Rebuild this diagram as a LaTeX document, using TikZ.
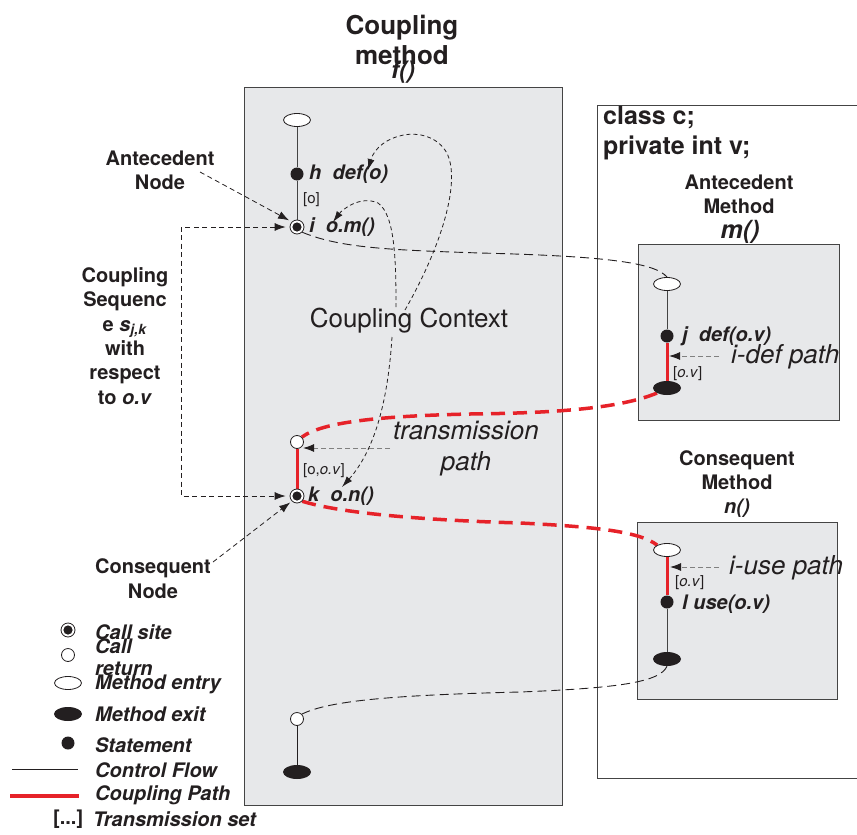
\documentclass[tikz,border=0pt]{standalone}
\usepackage{fontspec}
\setmainfont{TeX Gyre Heros}
\usetikzlibrary{shapes.geometric,arrows.meta,backgrounds}
\definecolor{txt}{HTML}{231F20}
\definecolor{boxgray}{HTML}{E7E8EA}
\definecolor{cred}{HTML}{E62229}
\definecolor{edge}{HTML}{444444}
\newcommand{\fsz}[2]{\fontsize{#1}{#2}\selectfont}
\tikzset{
  boldlbl/.style={font=\fsz{20}{24.5}\bfseries, align=center, text=txt, inner sep=0pt},
  bigtitle/.style={font=\fsz{26}{30}\bfseries, align=center, text=txt, inner sep=0pt},
  stmtlbl/.style={font=\fsz{20}{22}\bfseries\itshape, anchor=west, text=txt, inner sep=0pt},
  biglbl/.style={font=\fsz{26}{31}\itshape, align=center, text=txt, inner sep=0pt},
  tset/.style={font=\fsz{15}{17}, anchor=west, text=txt, inner sep=0pt},
  entrynode/.style={ellipse, draw=txt, line width=0.8pt, fill=white, minimum width=27pt, minimum height=13pt, inner sep=0pt},
  exitnode/.style={ellipse, fill=txt, minimum width=28pt, minimum height=14pt, inner sep=0pt},
  stmtnode/.style={circle, fill=txt, minimum size=13pt, inner sep=0pt},
  retnode/.style={circle, draw=txt, line width=0.8pt, fill=white, minimum size=13pt, inner sep=0pt},
  callnode/.style={retnode, minimum size=14pt, path picture={\fill[txt] (path picture bounding box.center) circle (4.6pt);}},
  cflow/.style={draw=edge, line width=1pt},
  cpath/.style={draw=cred, line width=3pt},
  redcurve/.style={draw=cred, line width=3.5pt, dash pattern=on 14pt off 8pt},
  blkcurve/.style={draw=txt, line width=0.9pt, dash pattern=on 9pt off 5pt},
  loopcurve/.style={draw=txt, line width=0.8pt, dash pattern=on 4pt off 3pt, -{Latex[length=11pt,width=7pt]}},
  ptr/.style={draw=txt, line width=0.8pt, dash pattern=on 5pt off 3.5pt, -{Latex[length=11pt,width=8pt]}},
  grayptr/.style={draw=gray, line width=1pt, dash pattern=on 5pt off 3pt, -{Latex[length=11pt,width=8pt,color=txt]}},
  boxframe/.style={draw=edge, line width=1pt, fill=boxgray}
}
\begin{document}
\begin{tikzpicture}[x=1pt,y=-1pt]
\useasboundingbox (0,0) rectangle (857,835);
% boxes
\begin{scope}[on background layer]
  \path[boxframe] (244,87) rectangle (562,805);
  \draw[edge, line width=1pt] (858,105) -- (597,105) -- (597,778) -- (858,778);
  \path[boxframe] (638,244) rectangle (839,420);
  \path[boxframe] (637,522) rectangle (837,699);
\end{scope}

% titles
\node[bigtitle] (ttl) at (402,40) {Coupling\\method};
\node[font=\fsz{24}{28}\bfseries\itshape, text=txt, inner sep=0pt] (ttlf) at (403,72) {f()};
\node[font=\fsz{25}{30}\bfseries, align=left, anchor=west, text=txt, inner sep=0pt] (cls) at (603,133) {class c;\\private int v;};
\node[boldlbl] (antm) at (739,194.5) {Antecedent\\Method};
\node[font=\fsz{25}{28}\bfseries\itshape, text=txt, inner sep=0pt] (antmn) at (740,232) {m()};
\node[boldlbl] (conm) at (737,470) {Consequent\\Method};
\node[font=\fsz{20}{24}\bfseries\itshape, text=txt, inner sep=0pt] (conmn) at (737,508) {n()};

% f() nodes
\node[entrynode] (fentry) at (297,120) {};
\node[stmtnode] (h) at (297,174) {};
\node[callnode] (i) at (297,227) {};
\node[retnode] (ret) at (297,442) {};
\node[callnode] (k) at (297,496) {};
\node[retnode] (ret2) at (297,719) {};
\node[exitnode] (fexit) at (297,772) {};
% m() nodes
\node[entrynode] (mentry) at (667,284) {};
\node[stmtnode] (j) at (667,336) {};
\node[exitnode] (mexit) at (667,388) {};
% n() nodes
\node[entrynode] (nentry) at (667,550) {};
\node[stmtnode] (l) at (667,602) {};
\node[exitnode] (nexit) at (667,659) {};

% statement labels
\node[stmtlbl] (hl) at (309,174) {h\ \ def(o)};
\node[stmtlbl] (il) at (309,227) {i\ \ o.m()};
\node[stmtlbl] (kl) at (308,496) {k\ \ o.n()};
\node[stmtlbl] (jl) at (682,336) {j\ \ def(o.v)};
\node[stmtlbl] (ll) at (682,604) {l use(o.v)};
\node[tset] (t1) at (303,200) {[o]};
\node[tset] (t2) at (303,471) {[o,\textit{o.v}]};
\node[tset] (t3) at (673,374) {[\textit{o.v}]};
\node[tset] (t4) at (675,583) {[\textit{o.v}]};

% big labels
\node[font=\fsz{26}{31}, text=txt, inner sep=0pt] (ctx) at (409,321) {Coupling Context};
\node[biglbl] (trans) at (466,449) {transmission\\path};
\node[biglbl, anchor=west] (idef) at (731,357) {i-def path};
\node[biglbl, anchor=west] (iuse) at (729,568) {i-use path};

% left labels
\node[boldlbl] (antn) at (160,170.5) {Antecedent\\Node};
\node[font=\fsz{20}{24.4}\bfseries, align=center, text=txt, inner sep=0pt] (cseq) at (125,336)
  {Coupling\\Sequenc\\e \textit{s}\textsubscript{\textit{j,k}}\\with\\respect\\to \textit{o.v}};
\node[boldlbl] (conn) at (153,578.5) {Consequent\\Node};

% legend
\node[callnode] (legcs) at (68,630) {};
\node[retnode] (legret) at (68,655) {};
\node[entrynode] (legentry) at (68,683) {};
\node[exitnode] (legexit) at (68,714) {};
\node[stmtnode] (legstmt) at (68,743) {};
\coordinate (lcf1) at (12,769); \coordinate (lcf2) at (78,769);
\coordinate (lcp1) at (10,796); \coordinate (lcp2) at (79,796);
\node[stmtlbl] (legcst) at (95,632) {Call site};
\node[stmtlbl, align=left, font=\fsz{20}{22}\bfseries\itshape] (legrett) at (95,657) {Call\\return};
\node[stmtlbl] (legentt) at (95,684) {Method entry};
\node[stmtlbl] (legexitt) at (95,714) {Method exit};
\node[stmtlbl] (legstmtt) at (95,745) {Statement};
\node[stmtlbl] (legcft) at (95,770) {Control Flow};
\node[stmtlbl] (legcpt) at (95,795) {Coupling Path};
\node[font=\fsz{20}{22}\bfseries, anchor=west, text=txt, inner sep=0pt] (legts1) at (53,819) {[...]};
\node[stmtlbl] (legts2) at (93,819) {Transmission set};

% coordinates for free ends
\coordinate (cc1) at (405,310);
\coordinate (cc2) at (396,307);
\coordinate (cc3) at (392,337);
\coordinate (e1) at (368,170);
\coordinate (e2) at (333,222);
\coordinate (e3) at (342,487);
\coordinate (antsrc) at (200,172);
\coordinate (consrc) at (213,562);
\coordinate (idefsrc) at (719,356);
\coordinate (ideftip) at (669,356);
\coordinate (iusesrc) at (719,567);
\coordinate (iusetip) at (670,567);
\coordinate (trsrc) at (390,448);
\coordinate (trtip) at (303,448);

\begin{scope}[on background layer]
  % control flow
  \draw[cflow] (fentry) -- (h) -- (i);
  \draw[cpath] (ret) -- (k);
  \draw[cflow, draw=txt] (ret2) -- (fexit);
  \draw[cflow] (mentry) -- (j);
  \draw[cpath] (j) -- (mexit);
  \draw[cpath] (nentry) -- (l);
  \draw[cflow] (l) -- (nexit);
  % coupling curves
  \draw[blkcurve] (i.south east) .. controls (340,248) and (390,250) .. (480,253)
        .. controls (600,256) and (655,262) .. (mentry.north);
  \draw[redcurve] (mexit.south west) .. controls (620,408) and (560,413) .. (470,414)
        .. controls (380,416) and (322,422) .. (ret.north east);
  \draw[redcurve] (k.south east) .. controls (340,513) and (420,520) .. (520,523)
        .. controls (600,527) and (640,532) .. (nentry.north west);
  \draw[blkcurve] (nexit.south) .. controls (660,682) and (620,688) .. (520,692)
        .. controls (400,695) and (330,700) .. (ret2.north east);
  % context loops
  \draw[loopcurve] (cc1) .. controls (445,240) and (462,175) .. (445,150)
        .. controls (425,122) and (378,135) .. (e1);
  \draw[loopcurve] (cc2) .. controls (396,260) and (395,215) .. (378,203)
        .. controls (360,195) and (342,210) .. (e2);
  \draw[loopcurve] (cc3) .. controls (388,400) and (375,450) .. (e3);
  % pointers
  \draw[ptr, shorten >=3pt] (antsrc) -- (i.north west);
  \draw[ptr, {Latex[length=11pt,width=8pt]}-{Latex[length=11pt,width=8pt]}, shorten <=4pt, shorten >=4pt]
        (i.west) -| (181,360) |- (k.west);
  \draw[ptr, shorten >=2pt] (consrc) -- (k.south west);
  \draw[grayptr] (idefsrc) -- (ideftip);
  \draw[grayptr] (iusesrc) -- (iusetip);
  \draw[grayptr] (trsrc) -- (trtip);
  % legend lines
  \draw[draw=txt, line width=1pt] (lcf1) -- (lcf2);
  \draw[draw=cred, line width=4pt] (lcp1) -- (lcp2);
\end{scope}
\end{tikzpicture}
\end{document}
